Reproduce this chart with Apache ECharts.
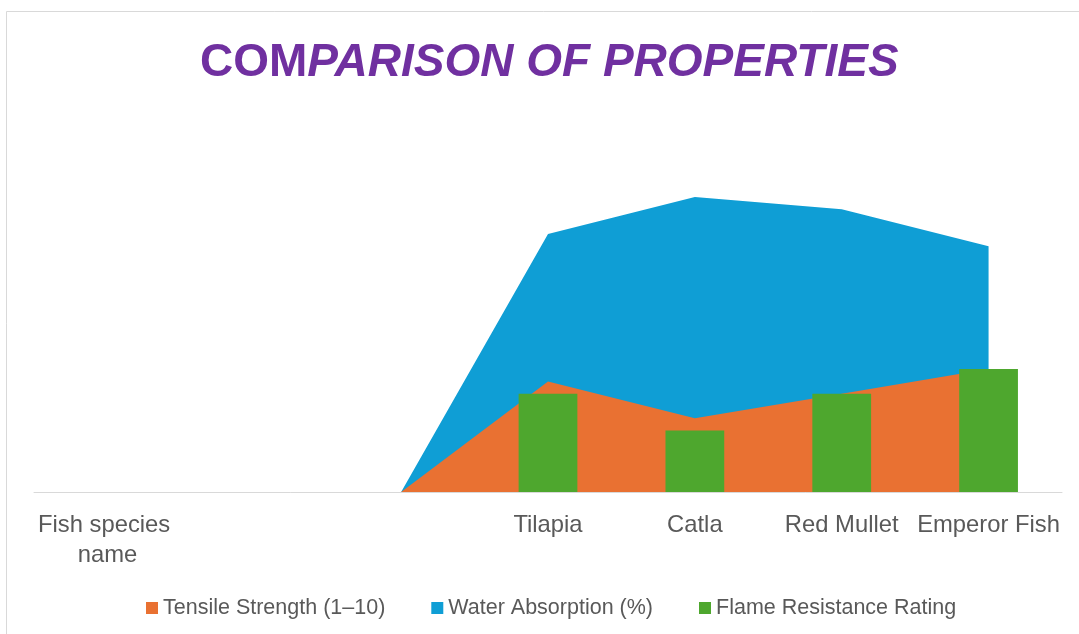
<!DOCTYPE html>
<html>
<head>
<meta charset="utf-8">
<script src="https://cdn.jsdelivr.net/npm/echarts@6/dist/echarts.min.js"></script>
<style>
  html, body { margin: 0; padding: 0; background: #ffffff; }
  #chart { width: 1079px; height: 634px; }
</style>
</head>
<body>
<div id="chart"></div>
<script>
// ---- Data ----
const categories = ['Fish species name', '', ' ', 'Tilapia', 'Catla', 'Red Mullet', 'Emperor Fish'];
const tensileStrength = [0, 0, 0, 9, 6, 8, 10];
const waterAbsorption = [0, 0, 0, 21, 24, 23, 20];
const flameResistance = [null, null, null, 8, 5, 8, 10];
const seriesNames = ['Tensile Strength (1–10)', 'Water Absorption (%)', 'Flame Resistance Rating'];
const titleUpright = 'COM';
const titleItalic = 'PARISON OF PROPERTIES';

const FONT = "'Liberation Sans', Arial, sans-serif";
const chart = echarts.init(document.getElementById('chart'), null, { renderer: 'canvas' });

chart.setOption({
  backgroundColor: '#ffffff',
  animation: false,
  graphic: [{
    type: 'rect',
    shape: { x: 6.5, y: 11.5, width: 1200, height: 800 },
    style: { fill: 'none', stroke: '#d9d9d9', lineWidth: 1 },
    silent: true,
    z: -10
  }],
  title: {
    text: '{u|' + titleUpright + '}{i|' + titleItalic + '}',
    left: 200,
    top: 36,
    padding: 0,
    textStyle: {
      rich: {
        u: { fontFamily: FONT, fontSize: 46, fontWeight: 'bold', color: '#7030A0', lineHeight: 54 },
        i: { fontFamily: FONT, fontSize: 46, fontWeight: 'bold', fontStyle: 'italic', color: '#7030A0', lineHeight: 54 }
      }
    }
  },
  legend: {
    data: seriesNames,
    left: 146,
    top: 597,
    padding: 0,
    itemWidth: 12,
    itemHeight: 12,
    itemGap: 46,
    icon: 'rect',
    textStyle: { fontFamily: FONT, fontSize: 21.5, color: '#595959' }
  },
  grid: { left: 34, right: 17, top: 123.3, bottom: 142, containLabel: false },
  xAxis: {
    type: 'category',
    data: categories,
    boundaryGap: true,
    axisLine: { show: true, lineStyle: { color: '#d9d9d9', width: 1 } },
    axisTick: { show: false },
    axisLabel: {
      interval: 0,
      margin: 18,
      fontFamily: FONT,
      fontSize: 23.8,
      lineHeight: 30,
      color: '#595959',
      width: 147,
      overflow: 'break',
      align: 'center'
    },
    splitLine: { show: false }
  },
  yAxis: {
    type: 'value',
    min: 0,
    max: 30,
    show: false,
    splitLine: { show: false }
  },
  series: [
    {
      name: seriesNames[0],
      type: 'line',
      data: tensileStrength,
      z: 3,
      showSymbol: false,
      symbol: 'none',
      lineStyle: { width: 0, color: '#E97132' },
      itemStyle: { color: '#E97132' },
      areaStyle: { color: '#E97132', opacity: 1 }
    },
    {
      name: seriesNames[1],
      type: 'line',
      data: waterAbsorption,
      z: 2,
      showSymbol: false,
      symbol: 'none',
      lineStyle: { width: 0, color: '#0F9ED5' },
      itemStyle: { color: '#0F9ED5' },
      areaStyle: { color: '#0F9ED5', opacity: 1 }
    },
    {
      name: seriesNames[2],
      type: 'bar',
      data: flameResistance,
      z: 4,
      barWidth: '40%',
      itemStyle: { color: '#4EA72E' }
    }
  ]
});
</script>
</body>
</html>
